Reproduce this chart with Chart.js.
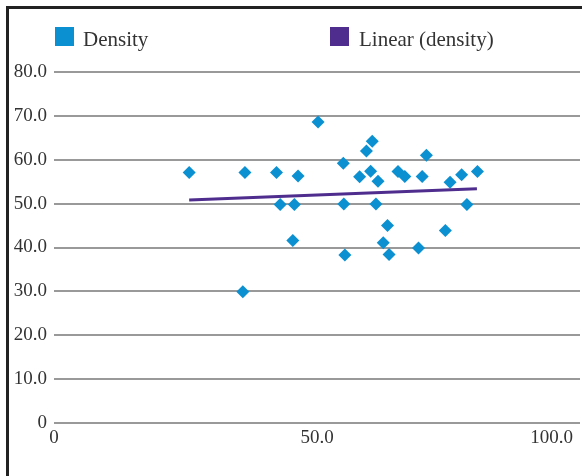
<!DOCTYPE html>
<html>
<head>
<meta charset="utf-8">
<script src="https://cdn.jsdelivr.net/npm/chart.js@4.4.0/dist/chart.umd.min.js"></script>
<style>
  html, body { margin: 0; padding: 0; background: #fff; }
  #wrap { position: relative; width: 582px; height: 476px; }
  .leg { position: absolute; font-family: 'Liberation Serif', serif; font-size: 21px; line-height: 21px; color: #333; white-space: nowrap; }
  .box { position: absolute; width: 19px; height: 19px; }
</style>
</head>
<body>
<div id="wrap">
  <canvas id="chart" width="582" height="476"></canvas>
  <div class="box" style="left:55px; top:27px; background:#0b91d1"></div>
  <span class="leg" style="left:83px; top:29px">Density</span>
  <div class="box" style="left:330px; top:27px; background:#4e2d8e"></div>
  <span class="leg" style="left:359px; top:29px">Linear (density)</span>
</div>
<script>
  // values
  var densityX = [25.7, 36.3, 42.3, 46.4, 43.0, 45.7, 45.4, 35.9, 50.2, 55.0,
                  60.5, 59.4, 58.1, 60.2, 61.6, 65.4, 66.7, 70.0, 70.8, 75.3,
                  77.5, 80.5, 55.1, 61.2, 78.5, 63.4, 74.4, 62.6, 69.3, 55.3, 63.7];
  var densityY = [57.1, 57.1, 57.1, 56.3, 49.8, 49.8, 41.6, 29.9, 68.6, 59.2,
                  64.2, 62.0, 56.1, 57.4, 55.1, 57.3, 56.2, 56.2, 61.0, 54.9,
                  56.6, 57.3, 49.9, 49.9, 49.8, 45.0, 43.9, 41.1, 39.9, 38.3, 38.4];
  var trendX = [25.7, 80.4];
  var trendY = [50.8, 53.4];
  var xTicks = [0, 50, 100];
  var xTickLabels = ['0', '50.0', '100.0'];
  var yTicks = [0, 10, 20, 30, 40, 50, 60, 70, 80];

  var BLUE = '#0b91d1';
  var PURPLE = '#4e2d8e';
  var FONT = '"Liberation Serif", serif';

  var densityPts = densityX.map(function (x, i) { return { x: x, y: densityY[i] }; });
  var trendPts = trendX.map(function (x, i) { return { x: x, y: trendY[i] }; });

  var framePlugin = {
    id: 'frame',
    beforeDraw: function (chart) {
      var c = chart.ctx;
      c.save();
      c.fillStyle = '#fff';
      c.fillRect(0, 0, chart.width, chart.height);
      c.restore();
    },
    afterDraw: function (chart) {
      var c = chart.ctx;
      c.save();
      c.fillStyle = '#222';
      c.fillRect(6, 6, chart.width - 6, 3);
      c.fillRect(6, 6, 3, chart.height - 6);

      // x tick labels, last one pulled inside like the original
      var xs = chart.scales.x;
      c.font = '19px ' + FONT;
      c.fillStyle = '#333';
      c.textAlign = 'center';
      c.textBaseline = 'middle';
      xTicks.forEach(function (v, i) {
        var lab = xTickLabels[i];
        var w = c.measureText(lab).width;
        var px = xs.getPixelForValue(v);
        px = Math.min(px, chart.width - 9 - w / 2);
        px = Math.max(px, 47 + w / 2);
        c.fillText(lab, px, 438);
      });
      c.restore();
    }
  };

  new Chart(document.getElementById('chart'), {
    type: 'scatter',
    data: {
      datasets: [{
        label: 'Density',
        data: densityPts,
        pointStyle: 'rectRot',
        pointRadius: 6.5,
        pointHoverRadius: 6.5,
        backgroundColor: BLUE,
        borderWidth: 0,
        clip: false,
        order: 2
      }, {
        label: 'Linear (density)',
        data: trendPts,
        showLine: true,
        pointRadius: 0,
        borderColor: PURPLE,
        borderWidth: 3,
        order: 1
      }]
    },
    options: {
      responsive: false,
      animation: false,
      layout: { autoPadding: false, padding: { top: 72, right: 2, left: 0, bottom: 0 } },
      plugins: { legend: { display: false }, tooltip: { enabled: false } },
      scales: {
        x: {
          type: 'linear',
          min: 0, max: 100,
          afterBuildTicks: function (s) { s.ticks = xTicks.map(function (v) { return { value: v }; }); },
          ticks: { display: false },
          grid: { display: false },
          border: { display: false },
          afterFit: function (s) { s.height = 53; s.paddingLeft = 0; s.paddingRight = 0; }
        },
        y: {
          min: 0, max: 80,
          afterBuildTicks: function (s) { s.ticks = yTicks.map(function (v) { return { value: v }; }); },
          ticks: {
            font: { family: FONT, size: 19 },
            color: '#333',
            padding: 7,
            callback: function (v) { return v === 0 ? '0' : v.toFixed(1); }
          },
          grid: { color: '#999', lineWidth: 2, drawTicks: false },
          border: { display: false },
          afterFit: function (s) { s.width = 54; }
        }
      }
    },
    plugins: [framePlugin]
  });
</script>
</body>
</html>
